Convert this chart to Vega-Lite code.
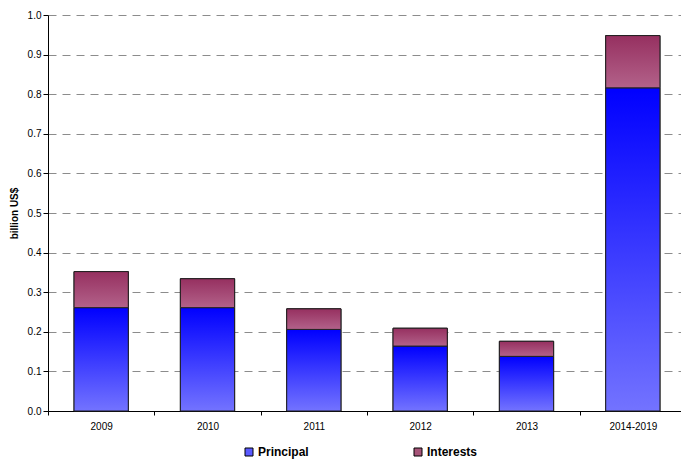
{
  "$schema": "https://vega.github.io/schema/vega-lite/v6.json",
  "width": 638,
  "height": 396,
  "padding": {"left": 9, "top": 10, "right": 0, "bottom": 5},
  "background": "white",
  "config": {
    "font": "Liberation Sans",
    "view": {"stroke": null},
    "axis": {"labelColor": "black", "titleColor": "black", "labelFontSize": 10, "domainColor": "black", "tickColor": "black"}
  },
  "data": {
    "values": [
      {"year": "2009", "series": "Principal", "value": 0.261},
      {"year": "2009", "series": "Interests", "value": 0.091},
      {"year": "2010", "series": "Principal", "value": 0.261},
      {"year": "2010", "series": "Interests", "value": 0.073},
      {"year": "2011", "series": "Principal", "value": 0.206},
      {"year": "2011", "series": "Interests", "value": 0.052},
      {"year": "2012", "series": "Principal", "value": 0.164},
      {"year": "2012", "series": "Interests", "value": 0.045},
      {"year": "2013", "series": "Principal", "value": 0.138},
      {"year": "2013", "series": "Interests", "value": 0.038},
      {"year": "2014-2019", "series": "Principal", "value": 0.816},
      {"year": "2014-2019", "series": "Interests", "value": 0.132}
    ]
  },
  "encoding": {
    "x": {
      "field": "year", "type": "nominal", "sort": null,
      "scale": {"paddingInner": 0, "paddingOuter": 0},
      "axis": {"title": null, "labelAngle": 0, "tickBand": "extent", "tickSize": 4, "labelPadding": 6, "grid": false, "labelOverlap": false}
    },
    "y": {
      "field": "value", "type": "quantitative", "stack": "zero",
      "scale": {"domain": [0, 1], "nice": false},
      "axis": {
        "title": "billion US$", "titleFontWeight": "bold", "titleFontSize": 10, "titlePadding": 8,
        "format": ".1f", "values": [0, 0.1, 0.2, 0.3, 0.4, 0.5, 0.6, 0.7, 0.8, 0.9, 1.0],
        "tickSize": 5, "grid": true, "gridColor": "#8c8c8c", "gridDash": [8, 6], "gridWidth": 1
      }
    },
    "order": {"field": "series", "sort": "descending"}
  },
  "layer": [
    {
      "mark": {"type": "bar", "stroke": "black", "strokeWidth": 1, "width": {"band": 0.51}},
      "encoding": {
        "color": {
          "field": "series", "type": "nominal",
          "scale": {"domain": ["Principal", "Interests"], "range": ["#5a5aff", "#a65478"]},
          "legend": {
            "title": null, "orient": "none", "direction": "horizontal",
            "legendX": 195, "legendY": 431, "padding": 0,
            "symbolType": "square", "symbolSize": 64, "symbolStrokeColor": "black", "symbolStrokeWidth": 1,
            "labelFontWeight": "bold", "labelFontSize": 12, "labelColor": "black", "labelOffset": 3,
            "columnPadding": 103
          }
        }
      }
    },
    {
      "mark": {"type": "bar", "stroke": "#222222", "strokeWidth": 1, "width": {"band": 0.51}},
      "encoding": {
        "detail": {"field": "series"},
        "fill": {
          "condition": {
            "test": "datum.series === 'Principal'",
            "value": {"gradient": "linear", "x1": 0, "y1": 0, "x2": 0, "y2": 1,
              "stops": [{"offset": 0, "color": "#0000ff"}, {"offset": 1, "color": "#7373ff"}]}
          },
          "value": {"gradient": "linear", "x1": 0, "y1": 0, "x2": 0, "y2": 1,
            "stops": [{"offset": 0, "color": "#963060"}, {"offset": 1, "color": "#b3628a"}]}
        }
      }
    }
  ]
}
